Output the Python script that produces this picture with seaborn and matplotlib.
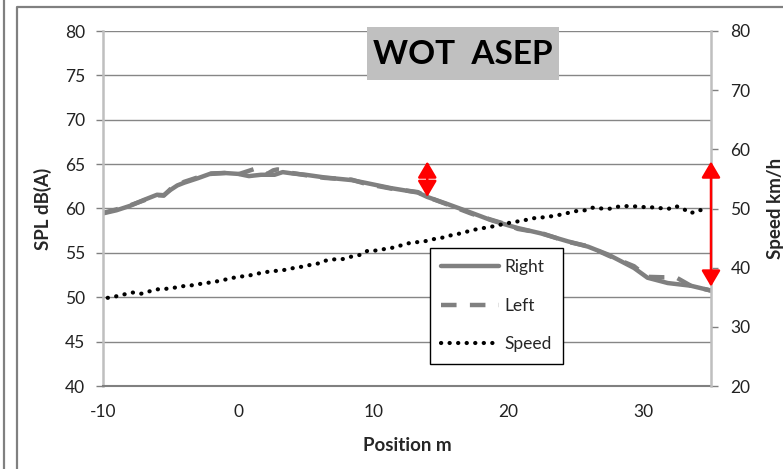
import matplotlib
matplotlib.use("Agg")
import matplotlib.pyplot as plt
import seaborn as sns
import numpy as np
from matplotlib.lines import Line2D
from matplotlib.patches import Rectangle, ArrowStyle

# ---- data ----
pos_right = [-10, -9, -8, -7, -6, -5.5, -5, -4.5, -4, -3, -2, -1, 0, 0.8, 1.7, 2.7, 3.3, 4, 5,
             6.4, 8.4, 9.4, 11.3, 13.3, 14, 15.5, 17.3, 18.7, 20, 20.7, 22.4, 24.4, 25.9, 27.4,
             29.3, 30.3, 31.8, 33.5, 35]
spl_right = [59.45, 59.8, 60.3, 60.95, 61.55, 61.5, 62.1, 62.6, 62.9, 63.4, 63.95, 64.0, 63.9,
             63.65, 63.8, 63.8, 64.1, 63.95, 63.8, 63.5, 63.2, 62.9, 62.3, 61.8, 61.3, 60.5,
             59.5, 58.7, 58.1, 57.8, 57.2, 56.3, 55.7, 54.8, 53.3, 52.2, 51.6, 51.3, 50.75]

pos_left = [-10, -9, -8, -7, -6, -5.5, -5, -4.5, -4, -3, -2, -1, 0, 0.9, 1.2, 1.7, 2.1, 2.6, 2.9,
            3.3, 4, 5, 6.4, 8.4, 9.4, 11.3, 13.3, 14, 15.5, 17.3, 18.7, 20, 20.7, 22.4, 24.4,
            25.9, 27.4, 29.3, 30.3, 31.5, 32.4, 33.5, 35]
spl_left = [59.5, 59.9, 60.35, 60.9, 61.5, 61.45, 62.2, 62.55, 63.0, 63.5, 63.9, 64.0, 63.85,
            64.3, 64.45, 64.45, 63.85, 64.3, 64.4, 64.35, 64.0, 63.75, 63.45, 63.25, 62.8,
            62.25, 61.85, 61.3, 60.45, 59.4, 58.75, 58.15, 57.7, 57.25, 56.25, 55.75, 54.7,
            53.5, 52.3, 52.25, 52.25, 51.3, 50.75]

pos_speed = [-9.65, -9.03, -8.4, -7.8, -7.18, -6.56, -5.94, -5.45, -4.83, -4.2, -3.6, -2.98,
             -2.37, -1.75, -1.13, -0.52, 0, 0.72, 1.2, 1.83, 2.44, 3.06, 3.68, 4.3, 4.8, 5.4,
             6.0, 6.5, 7.1, 7.75, 8.36, 8.98, 9.6, 10.1, 10.7, 11.3, 11.9, 12.56, 13.2, 13.8,
             14.4, 15.0, 15.6, 16.1, 16.75, 17.37, 18.0, 18.5, 19.1, 19.7, 20.34, 20.95, 21.56,
             22.2, 22.8, 23.4, 24.0, 24.5, 25.1, 25.7, 26.2, 26.9, 27.5, 28.1, 28.7, 29.3,
             29.96, 30.6, 31.2, 31.8, 32.4, 32.9, 33.5, 34.1, 34.7]
speed = [34.9, 35.16, 35.5, 35.8, 35.6, 36.0, 36.34, 36.4, 36.56, 36.85, 36.95, 37.2, 37.4,
         37.6, 37.9, 38.2, 38.47, 38.6, 38.9, 39.15, 39.4, 39.5, 39.7, 40.06, 40.17, 40.5,
         40.74, 41.2, 41.4, 41.46, 41.85, 42.14, 42.87, 42.87, 43.1, 43.3, 43.66, 44.1, 44.3,
         44.45, 44.8, 45.0, 45.4, 45.6, 45.97, 46.36, 46.65, 46.8, 47.1, 47.4, 47.7, 47.9,
         48.2, 48.5, 48.5, 48.8, 49.0, 49.3, 49.6, 49.7, 50.14, 50.0, 49.97, 50.3, 50.4,
         50.37, 50.25, 50.2, 50.08, 49.9, 50.4, 50.0, 49.2, 49.75, 49.6]

x_ticks = [-10, 0, 10, 20, 30]
spl_ticks = [40, 45, 50, 55, 60, 65, 70, 75, 80]
speed_ticks = [20, 30, 40, 50, 60, 70, 80]
title_text = "WOT  ASEP"

# ---- style ----
sns.set_style("white")
plt.rcParams['font.family'] = ['Lato', 'DejaVu Sans']
FS = 12.5
FSL = 13.5

W, H = 783, 469
fig = plt.figure(figsize=(W / 100, H / 100), dpi=100)
L, R, T, B = 103, 711, 31, 386
ax = fig.add_axes([L / W, 1 - B / H, (R - L) / W, (B - T) / H])
ax2 = ax.twinx()

gray = '#808080'
lgray = '#bfbfbf'

sns.lineplot(x=pos_left, y=spl_left, ax=ax, color=gray, lw=3.2, sort=False,
             linestyle=(0, (3.5, 3)), label='Left', legend=False)
sns.lineplot(x=pos_right, y=spl_right, ax=ax, color=gray, lw=3.2, sort=False,
             label='Right', legend=False)
sns.lineplot(x=pos_speed, y=speed, ax=ax2, color='black', lw=3.0, sort=False,
             linestyle=(0, (0.05, 2.0)), dash_capstyle='round', label='Speed', legend=False)

ax.set_xlim(-10, 35)
ax.set_ylim(40, 80)
ax2.set_ylim(20, 80)
ax.set_xticks(x_ticks)
ax.set_yticks(spl_ticks)
ax2.set_yticks(speed_ticks)
ax.set_xticklabels([str(v) for v in x_ticks], fontsize=FS)
ax.set_yticklabels([str(v) for v in spl_ticks], fontsize=FS)
ax2.set_yticklabels([str(v) for v in speed_ticks], fontsize=FS)

ax.yaxis.grid(True, color='#868686', lw=1.0)
ax.xaxis.grid(False)
ax.set_axisbelow(True)

for a in (ax, ax2):
    a.spines['top'].set_visible(False)
    a.set_facecolor('none')
ax.spines['left'].set_color(lgray)
ax.spines['left'].set_linewidth(1.8)
ax.spines['bottom'].set_color(gray)
ax.spines['bottom'].set_linewidth(1.5)
ax.spines['right'].set_visible(False)
ax2.spines['left'].set_visible(False)
ax2.spines['bottom'].set_visible(False)
ax2.spines['right'].set_color(lgray)
ax2.spines['right'].set_linewidth(1.8)

ax.tick_params(axis='y', direction='out', length=5, width=1, color=gray, pad=8, labelcolor='#222222')
ax.tick_params(axis='x', direction='out', length=4, width=1, color=lgray, pad=9, labelcolor='#222222')
ax2.tick_params(axis='y', direction='out', length=5, width=1, color=gray, pad=9, labelcolor='#222222')

ax.set_xlabel('Position m', fontsize=FSL, fontweight='bold', labelpad=12)
ax.set_ylabel('SPL dB(A)', fontsize=FSL, fontweight='bold', labelpad=9)
ax2.set_ylabel('Speed km/h', fontsize=FSL, fontweight='bold', labelpad=12)

# legend
h1, l1 = ax.get_legend_handles_labels()
h2, l2 = ax2.get_legend_handles_labels()
handles = {lab: h for h, lab in zip(h1 + h2, l1 + l2)}
order = ['Right', 'Left', 'Speed']
leg = ax2.legend([handles[k] for k in order], order, loc='upper left',
                 bbox_to_anchor=((430 - L) / (R - L), 1 - (248 - T) / (B - T)),
                 borderaxespad=0, fontsize=FS, frameon=True, fancybox=False,
                 framealpha=1, edgecolor='black', handlelength=3.3, handletextpad=0.35,
                 labelspacing=1.3, borderpad=0.65)
leg.get_frame().set_linewidth(1.0)
leg.set_zorder(5)

# red arrows (drawn on the top axes, in SPL data coordinates)
def red_arrow(x, y0, y1):
    ax2.annotate('', xy=(x, y1), xytext=(x, y0), xycoords=ax.transData, textcoords=ax.transData,
                 arrowprops=dict(arrowstyle=ArrowStyle('<|-|>', head_length=0.85, head_width=0.5),
                                 color='red', lw=1.8, shrinkA=0, shrinkB=0, mutation_scale=11.5),
                 annotation_clip=False, zorder=6)

red_arrow(14, 61.3, 65.3)
red_arrow(35, 65.3, 51.2)

# title box
fig.add_artist(Rectangle((367 / W, 1 - 80 / H), 192 / W, 53 / H, transform=fig.transFigure,
                         facecolor='#c0c0c0', edgecolor='none', zorder=10))
fig.text(463 / W, 1 - 54 / H, title_text, ha='center', va='center', fontsize=24,
         fontweight='bold', color='black', zorder=11)

# figure frame lines
fig.add_artist(Line2D([3.5 / W, 3.5 / W], [0, 1], transform=fig.transFigure, color=gray, lw=1.6))
fig.add_artist(Line2D([16.5 / W, 16.5 / W, 1], [0, 1 - 7 / H, 1 - 7 / H],
                      transform=fig.transFigure, color=gray, lw=1.6))

fig.savefig('out.png', dpi=100)
